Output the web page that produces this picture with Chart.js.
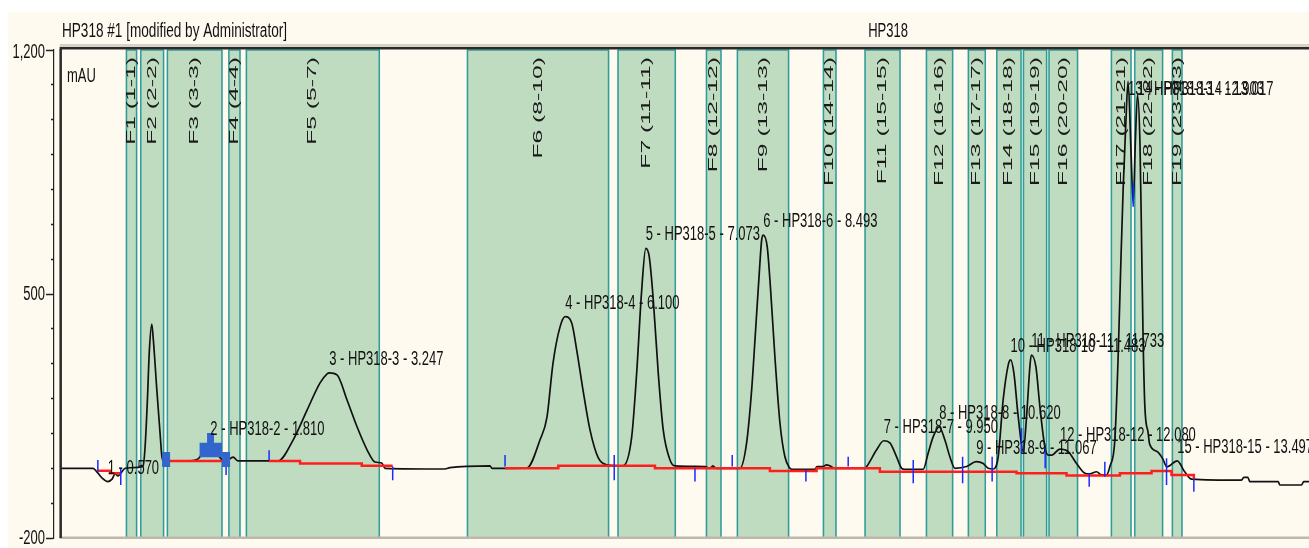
<!DOCTYPE html>
<html>
<head>
<meta charset="utf-8">
<title>HP318 chromatogram</title>
<script src="https://cdn.jsdelivr.net/npm/chart.js@4.4.1/dist/chart.umd.min.js"></script>
<style>
  html, body { margin: 0; padding: 0; background: #ffffff; overflow: hidden; }
  #wrap { position: relative; width: 1309px; height: 548px; }
  canvas { display: block; }
</style>
</head>
<body>
<div id="wrap"><canvas id="c" width="1309" height="548"></canvas></div>
<script>
// ---- Run information ----
const runTitle = 'HP318 #1 [modified by Administrator]';
const sampleName = 'HP318';
const signalUnit = 'mAU';

// ---- Detector trace: retention time (min) and signal (mAU) ----
const traceTime = [
  0.000, 0.393, 0.441, 0.502, 0.570, 0.622, 0.659, 0.695, 0.727, 0.780,
  0.960, 0.997, 1.021, 1.049, 1.073, 1.102, 1.121, 1.163, 1.202, 1.222,
  1.242, 1.323, 1.529, 1.662, 1.722, 1.810, 1.879, 1.940, 2.000, 2.085,
  2.145, 2.508, 2.628, 2.810, 2.979, 3.136, 3.221, 3.247, 3.341, 3.462,
  3.583, 3.704, 3.800, 3.882, 3.921, 4.646, 4.706, 5.190, 5.215, 5.372,
  5.637, 5.794, 5.879, 5.952, 6.036, 6.100, 6.178, 6.238, 6.314, 6.399,
  6.495, 6.601, 6.798, 6.903, 6.963, 7.024, 7.073, 7.115, 7.164, 7.224,
  7.284, 7.366, 7.426, 7.789, 7.849, 7.885, 7.921, 8.211, 8.292, 8.353,
  8.393, 8.445, 8.474, 8.493, 8.541, 8.582, 8.634, 8.695, 8.755, 8.816,
  8.840, 9.118, 9.142, 9.215, 9.259, 9.299, 9.359, 9.722, 9.743, 9.864,
  9.950, 10.024, 10.105, 10.166, 10.205, 10.426, 10.487, 10.548, 10.620, 10.689,
  10.749, 10.810, 10.951, 11.067, 11.152, 11.212, 11.273, 11.333, 11.393, 11.454,
  11.483, 11.523, 11.575, 11.636, 11.676, 11.716, 11.733, 11.789, 11.837, 11.897,
  11.937, 11.978, 12.080, 12.179, 12.280, 12.381, 12.441, 12.522, 12.582, 12.643,
  12.683, 12.743, 12.783, 12.812, 12.843, 12.876, 12.903, 12.940, 12.965, 12.990,
  13.017, 13.047, 13.066, 13.085, 13.106, 13.146, 13.163, 13.260, 13.323, 13.372,
  13.497, 13.588, 13.671, 14.274, 14.302, 14.350, 14.375, 14.717, 14.738, 14.999,
  15.027, 15.090
];
const traceSignal = [
  0, 0, -11, -28, -38, -31, -16, -22, -14, 0,
  3, 7, 61, 196, 339, 414, 368, 225, 101, 38,
  21, 21, 21, 27, 47, 73, 47, 27, 21, 32,
  21, 21, 21, 81, 167, 245, 271, 274, 268, 196,
  119, 53, 18, 15, 0, -2, 2, 7, 0, 0,
  1, 81, 147, 302, 405, 435, 417, 340, 225, 110,
  32, 10, 7, 90, 273, 512, 631, 607, 483, 273,
  110, 24, 7, 5, 0, 7, 0, 0, 73, 225,
  368, 560, 655, 669, 636, 512, 320, 130, 33, 0,
  -3, -3, 5, 5, 10, 7, 0, 0, 5, 53,
  79, 73, 33, 0, -3, -3, 44, 91, 119, 81,
  33, 0, 5, 19, 14, 0, -2, 33, 196, 296,
  311, 273, 148, 48, 148, 291, 325, 291, 177, 62,
  38, 38, 55, 48, 14, -14, -16, -10, -19, -19,
  5, 81, 320, 560, 798, 991, 1110, 900, 760, 930,
  1071, 930, 655, 368, 177, 101, 70, 47, 27, 4,
  21, -10, -31, -34, -26, -26, -38, -38, -48, -48,
  -38, -38
];

// ---- Integration baseline (null = no baseline drawn) ----
const baselineTime = [
  0.450, 0.598, 0.727, 0.800,
  1.275, 1.988, 2.200,
  2.520, 2.894, 3.640, 4.014, 4.500,
  5.372, 6.016, 7.184, 8.574, 9.138, 9.903, 11.555, 12.159, 12.804, 13.187, 13.428, 13.610, 13.698
];
const baselineSignal = [
  -7, -14, -14, null,
  21, 21, null,
  21, 14, 7, 7, null,
  0, 7, 0, -8, 0, -10, -14, -21, -14, -8, -19, -19, -31
];

// ---- Peak start / end delimiters ----
const delimiterTime = [0.450, 0.727, 2.000, 2.520, 4.014, 5.372, 6.692, 7.668, 8.118, 9.009,
                       9.520, 10.306, 10.903, 11.260, 11.616, 11.901, 12.433, 12.622, 12.965, 13.368, 13.698];
const delimiterHigh = [24, 1, 4, 52, 5, 38, 38, 0, 38, -5, 33, 24, 33, 33, 115, 67, -14, 19, 818, 29, -29];
const delimiterLow  = [-10, -48, -19, 24, -34, 5, -34, -38, 5, -38, 5, -43, -43, -38, 44, 0, -53, -24, 750, -48, -67];

// Manually placed delimiters of peak 2
const manualDelimiterTime = [1.275, 2.000];
const manualDelimiterHigh = [47, 47];
const manualDelimiterLow  = [4, 4];

// Highlighted peak 2 outline (stepped) and its floor
const highlightTime   = [1.677, 1.770, 1.854, 1.951];
const highlightSignal = [73, 101, 73, 73];
const highlightFloor  = 32;

// ---- Identified peaks ----
const peakNames = ['1 - 0.570', '2 - HP318-2 - 1.810', '3 - HP318-3 - 3.247', '4 - HP318-4 - 6.100',
  '5 - HP318-5 - 7.073', '6 - HP318-6 - 8.493', '7 - HP318-7 - 9.950', '8 - HP318-8 - 10.620',
  '9 - HP318-9 - 11.067', '10 - HP318-10 - 11.483', '11 - HP318-11 - 11.733', '12 - HP318-12 - 12.080',
  '13 - HP318-13 - 12.903', '14 - HP318-14 - 13.017', '15 - HP318-15 - 13.497'];
const peakTimes   = [0.570, 1.810, 3.247, 6.100, 7.073, 8.493, 9.950, 10.620, 11.067, 11.483, 11.733, 12.080, 12.903, 13.017, 13.497];
const peakHeights = [-38, 73, 274, 435, 631, 669, 79, 119, 19, 311, 325, 55, 1110, 1071, 21];

// ---- Collected fractions ----
const fractionNames = ['F1 (1-1)', 'F2 (2-2)', 'F3 (3-3)', 'F4 (4-4)', 'F5 (5-7)', 'F6 (8-10)',
  'F7 (11-11)', 'F8 (12-12)', 'F9 (13-13)', 'F10 (14-14)', 'F11 (15-15)', 'F12 (16-16)',
  'F13 (17-17)', 'F14 (18-18)', 'F15 (19-19)', 'F16 (20-20)', 'F17 (21-21)', 'F18 (22-22)', 'F19 (23-23)'];
const fractionStart = [0.787, 0.960, 1.282, 2.025, 2.237, 4.909, 6.729, 7.798, 8.172, 9.212,
  9.715, 10.457, 10.964, 11.307, 11.630, 11.939, 12.693, 12.975, 13.430];
const fractionEnd = [0.927, 1.253, 1.959, 2.177, 3.861, 6.632, 7.439, 7.991, 8.808, 9.381,
  10.155, 10.791, 11.186, 11.618, 11.927, 12.301, 12.947, 13.329, 13.563];

// ---- Signal axis ----
const signalMin = -200, signalMax = 1200, signalStep = 100;
const labeledTicks = [1200, 500, -200];
const timeMin = -0.08, timeMax = 15.09;

// ---------------------------------------------------------------
const FONT = '13px "Liberation Sans", Arial, sans-serif';
const TEXT_STRETCH = 1.5;

function drawText(ctx, text, x, y, align, baseline, sx) {
  ctx.save();
  ctx.translate(x, y);
  ctx.scale(sx || 1, TEXT_STRETCH);
  ctx.font = FONT;
  ctx.fillStyle = '#111111';
  ctx.textAlign = align;
  ctx.textBaseline = baseline;
  ctx.fillText(text, 0, 0);
  ctx.restore();
}

const pts = (xs, ys) => xs.map((t, i) => ({ x: t, y: ys[i] }));

function segmentPoints(ts, hi, lo) {
  const out = [];
  ts.forEach((t, i) => { out.push({ x: t, y: hi[i] }, { x: t, y: lo[i] }, { x: t, y: null }); });
  return out;
}

// Page background and outer panel
const panelPlugin = {
  id: 'panel',
  beforeDraw(chart) {
    const { ctx, width, height } = chart;
    ctx.save();
    ctx.fillStyle = '#ffffff';
    ctx.fillRect(0, 0, width, height);
    ctx.fillStyle = '#fffaf0';
    ctx.fillRect(8, 12, width - 8, height - 12);
    ctx.restore();
  }
};

// Fraction windows with their rotated names
const fractionPlugin = {
  id: 'fractions',
  beforeDatasetsDraw(chart) {
    const { ctx, chartArea: a, scales: { x } } = chart;
    ctx.save();
    for (let i = 0; i < fractionNames.length; i++) {
      const x0 = x.getPixelForValue(fractionStart[i]);
      const x1 = x.getPixelForValue(fractionEnd[i]);
      ctx.fillStyle = '#c0dcc0';
      ctx.fillRect(x0, a.top, x1 - x0, a.bottom - a.top);
      ctx.strokeStyle = '#2f9c9c';
      ctx.lineWidth = 1.5;
      ctx.strokeRect(x0 + 0.75, a.top, x1 - x0 - 1.5, a.bottom - a.top);
      ctx.save();
      ctx.translate((x0 + x1) / 2, a.top + 7);
      ctx.rotate(-Math.PI / 2);
      ctx.scale(1.9, 1);
      ctx.font = FONT;
      ctx.fillStyle = '#1a1a1a';
      ctx.textAlign = 'right';
      ctx.textBaseline = 'middle';
      ctx.fillText(fractionNames[i], 0, 0);
      ctx.restore();
    }
    ctx.restore();
  }
};

// Frame lines, peak names, axis labels and header
const annotationPlugin = {
  id: 'annotations',
  afterDatasetsDraw(chart) {
    const { ctx, chartArea: a, width, scales: { x, y } } = chart;
    const left = x.getPixelForValue(0);
    ctx.save();
    // frame
    ctx.fillStyle = '#d6d2c8';
    ctx.fillRect(left - 1, a.top - 6, width, 3);
    ctx.fillStyle = '#2a2a2a';
    ctx.fillRect(left - 1, a.top - 3, width, 2.5);
    ctx.fillStyle = '#bcb8ae';
    ctx.fillRect(left - 1, a.bottom - 1.5, width, 2.5);
    ctx.fillStyle = '#2a2a2a';
    ctx.fillRect(left - 1.2, a.top - 1, 2.5, a.bottom - a.top + 1);

    // peak names
    for (let i = 0; i < peakNames.length; i++) {
      const px = x.getPixelForValue(peakTimes[i]);
      const py = Math.max(y.getPixelForValue(peakHeights[i]) - 8, a.top + 45);
      drawText(ctx, peakNames[i], px, py, 'left', 'alphabetic');
    }

    // signal tick labels
    labeledTicks.forEach(v => {
      const py = y.getPixelForValue(v) + (v === signalMax ? 3 : 1);
      drawText(ctx, v.toLocaleString('en-US'), 45, py, 'right', 'middle');
    });
    drawText(ctx, signalUnit, 67, a.top + 32, 'left', 'alphabetic');

    // header
    drawText(ctx, runTitle, 62, 37, 'left', 'alphabetic', 1.045);
    drawText(ctx, sampleName, 888, 37, 'center', 'alphabetic');
    ctx.restore();
  }
};

new Chart(document.getElementById('c'), {
  type: 'line',
  data: {
    datasets: [
      {
        label: 'Peak 2 highlight',
        data: pts(highlightTime, highlightSignal),
        stepped: true,
        borderWidth: 0,
        borderColor: 'rgba(0,0,0,0)',
        backgroundColor: '#3366cc',
        fill: { value: highlightFloor },
        pointRadius: 0,
        order: 1
      },
      {
        label: 'Manual delimiters',
        data: segmentPoints(manualDelimiterTime, manualDelimiterHigh, manualDelimiterLow),
        borderColor: '#3366cc',
        borderWidth: 8,
        borderCapStyle: 'butt',
        pointRadius: 0,
        spanGaps: false,
        order: 1
      },
      {
        label: 'Delimiters',
        data: segmentPoints(delimiterTime, delimiterHigh, delimiterLow),
        borderColor: '#1a2cff',
        borderWidth: 1.5,
        borderCapStyle: 'butt',
        pointRadius: 0,
        spanGaps: false,
        order: 2
      },
      {
        label: 'Baseline',
        data: pts(baselineTime, baselineSignal),
        stepped: true,
        borderColor: '#ff1e1e',
        borderWidth: 2.5,
        pointRadius: 0,
        spanGaps: false,
        order: 3
      },
      {
        label: sampleName,
        data: pts(traceTime, traceSignal),
        borderColor: '#111111',
        borderWidth: 1.7,
        cubicInterpolationMode: 'monotone',
        pointRadius: 0,
        order: 4
      }
    ]
  },
  options: {
    responsive: false,
    devicePixelRatio: 1,
    animation: false,
    events: [],
    layout: { padding: { top: 50, bottom: 10, left: 0, right: 0 } },
    plugins: { legend: { display: false }, tooltip: { enabled: false }, title: { display: false } },
    scales: {
      x: { type: 'linear', min: timeMin, max: timeMax, display: false },
      y: {
        type: 'linear',
        min: signalMin,
        max: signalMax,
        afterFit(scale) { scale.width = 54; },
        ticks: { stepSize: signalStep, display: false, autoSkip: false },
        grid: {
          drawOnChartArea: false,
          drawTicks: true,
          tickLength: 8,
          tickWidth: 1.5,
          tickColor: '#222222',
          tickBorderDash: ctx => labeledTicks.includes(ctx.tick && ctx.tick.value) ? [] : [3, 20],
          tickBorderDashOffset: ctx => labeledTicks.includes(ctx.tick && ctx.tick.value) ? 0 : 18
        },
        border: { display: true, color: '#222222', width: 1.2 }
      }
    }
  },
  plugins: [panelPlugin, fractionPlugin, annotationPlugin]
});
</script>
</body>
</html>
